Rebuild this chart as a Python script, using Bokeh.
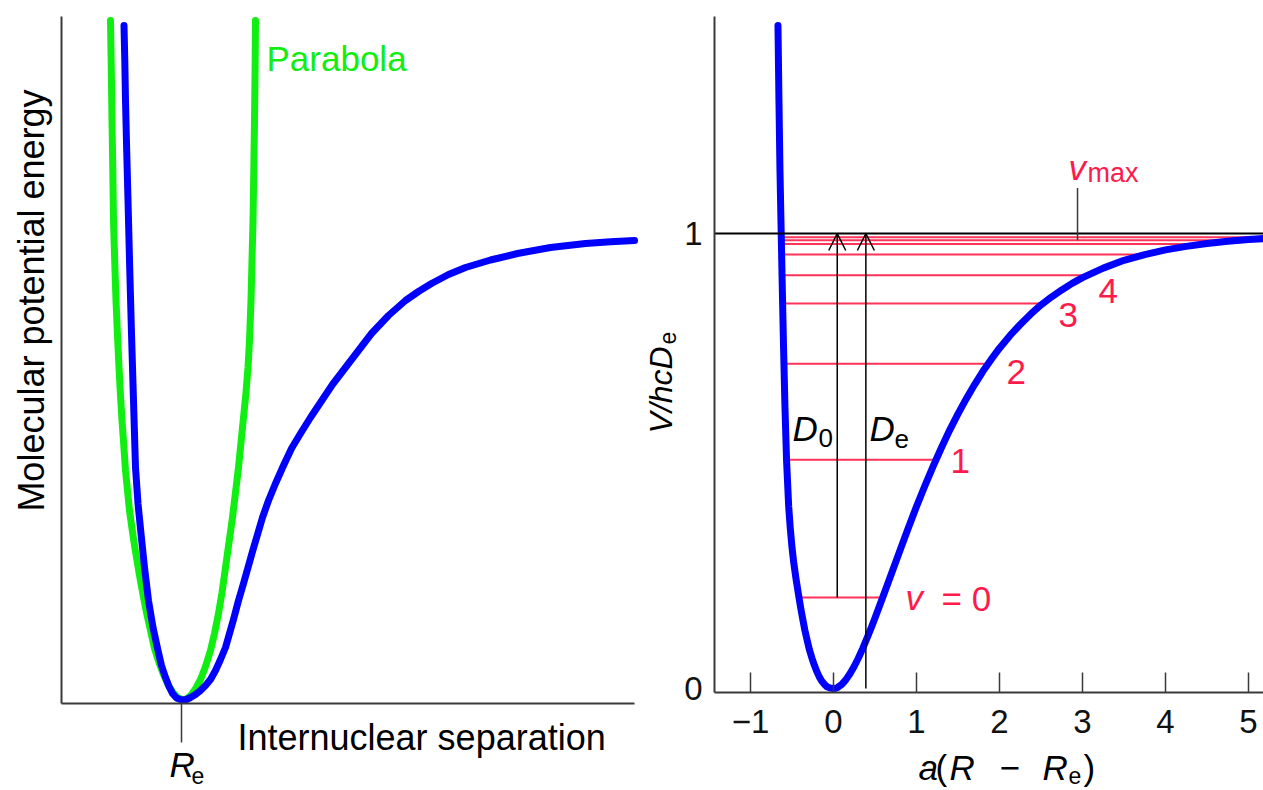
from math import pi
from bokeh.plotting import figure
from bokeh.layouts import row
from bokeh.models import FixedTicker, Label, Arrow, OpenHead
from bokeh.embed import file_html
from bokeh.resources import INLINE

FONT = "Liberation Sans"
BLUE = "#0000ff"
GREEN = "#11ee11"
RED = "#ff1a4b"
LEVEL_RED = "#ff3358"
AXIS = "#3a3a3a"

# ---------------- left panel data (arbitrary units) ----------------
morse_left_x = [0.625, 0.633, 0.64, 0.652, 0.665, 0.682, 0.70, 0.72, 0.74, 0.765,
                0.795, 0.83, 0.87, 0.915, 0.965, 1.00, 1.04, 1.075, 1.11, 1.15,
                1.20, 1.25, 1.29, 1.34, 1.39, 1.44, 1.49, 1.54, 1.59, 1.64,
                1.68, 1.72, 1.77, 1.82, 1.865, 1.91, 1.96, 2.01, 2.07, 2.14,
                2.22, 2.30, 2.39, 2.49, 2.59, 2.71, 2.84, 2.97, 3.10, 3.27,
                3.44, 3.57, 3.70, 3.87, 4.04, 4.29, 4.56, 4.89, 5.24, 5.49, 5.73]
morse_left_y = [6.78, 6.43, 6.03, 5.53, 5.03, 4.36, 3.70, 3.03, 2.36, 2.00,
                1.70, 1.36, 1.03, 0.76, 0.53, 0.38, 0.26, 0.17, 0.10, 0.055,
                0.035, 0.04, 0.06, 0.09, 0.13, 0.18, 0.24, 0.33, 0.44, 0.56,
                0.70, 0.84, 1.03, 1.20, 1.36, 1.52, 1.69, 1.86, 2.03, 2.20,
                2.38, 2.55, 2.70, 2.86, 3.01, 3.19, 3.36, 3.53, 3.70, 3.88,
                4.03, 4.12, 4.20, 4.29, 4.36, 4.435, 4.50, 4.56, 4.60, 4.617, 4.63]
parabola_x = [0.49, 0.498, 0.505, 0.513, 0.52, 0.532, 0.545, 0.56, 0.575, 0.59,
              0.605, 0.623, 0.64, 0.66, 0.68, 0.705, 0.73, 0.755, 0.78, 0.815,
              0.85, 0.89, 0.93, 0.975, 1.02, 1.065, 1.115, 1.16, 1.21,
              1.255, 1.30, 1.345, 1.39, 1.44, 1.49, 1.53, 1.57, 1.605, 1.64,
              1.675, 1.71, 1.74, 1.77, 1.795, 1.82, 1.845, 1.865, 1.88, 1.895,
              1.905, 1.915, 1.923, 1.93, 1.936, 1.94]
parabola_y = [6.83, 6.33, 5.83, 5.33, 4.83, 4.43, 4.03, 3.68, 3.36, 3.08,
              2.83, 2.58, 2.33, 2.13, 1.93, 1.75, 1.58, 1.43, 1.28, 1.09,
              0.91, 0.73, 0.55, 0.41, 0.29, 0.19, 0.11, 0.06, 0.035,
              0.05, 0.09, 0.155, 0.24, 0.37, 0.53, 0.70, 0.90, 1.11, 1.36,
              1.61, 1.86, 2.11, 2.36, 2.61, 2.86, 3.11, 3.36, 3.63, 4.03,
              4.43, 4.83, 5.33, 5.83, 6.33, 6.83]
re_position = [1.2]

# ---------------- right panel data: a(R - Re) vs V/hcDe ----------------
morse_x = [-0.669, -0.657, -0.645, -0.630, -0.617, -0.603, -0.585, -0.566, -0.540,
           -0.521, -0.500, -0.480, -0.455, -0.435, -0.416, -0.395, -0.370, -0.345,
           -0.316, -0.290, -0.260, -0.230, -0.200, -0.170, -0.140, -0.110, -0.080,
           -0.040, 0.000, 0.025, 0.050, 0.100, 0.150, 0.200, 0.250, 0.300, 0.350,
           0.400, 0.450, 0.500, 0.600, 0.700, 0.800, 0.900, 1.000, 1.100, 1.200,
           1.300, 1.400, 1.500, 1.600, 1.700, 1.800, 1.900, 2.000, 2.125, 2.250,
           2.375, 2.500, 2.625, 2.750, 2.875, 3.000, 3.250, 3.500, 3.750, 4.000,
           4.250, 4.500, 4.750, 5.000, 5.200]
morse_v = [1.457, 1.29, 1.14, 1.00, 0.88, 0.76, 0.62, 0.503, 0.40,
           0.353, 0.31, 0.278, 0.245, 0.222, 0.20, 0.177, 0.152, 0.128,
           0.105, 0.085, 0.067, 0.051, 0.037, 0.025, 0.016, 0.0095, 0.004,
           0.0012, 0.0, 0.0006, 0.0024, 0.009, 0.0194, 0.033, 0.0489, 0.067, 0.0872,
           0.109, 0.1313, 0.155, 0.204, 0.2534, 0.303, 0.3521, 0.400, 0.445, 0.488,
           0.5292, 0.568, 0.6035, 0.637, 0.668, 0.697, 0.7232, 0.748, 0.7755, 0.800,
           0.8226, 0.843, 0.8604, 0.876, 0.8904, 0.903, 0.9239, 0.941, 0.9536, 0.964,
           0.9717, 0.978, 0.9828, 0.987, 0.989]
level_v = [0, 1, 2, 3, 4, 5, 6, 7, 8]
level_e = [0.200, 0.503, 0.714, 0.846, 0.908, 0.954, 0.977, 0.985, 0.992]
level_left = [-0.416, -0.566, -0.597, -0.613, -0.620, -0.625, -0.628, -0.629, -0.630]
level_right = [0.59, 1.23, 1.86, 2.53, 3.06, 3.76, 4.40, 4.85, 5.15]
x_ticks = [-1, 0, 1, 2, 3, 4, 5]
y_ticks = [0, 1]
d0_x, de_x = 0.045, 0.39
vmax_x, vmax_y0, vmax_y1 = 2.94, 0.985, 1.10


# pixel -> data helpers (used only to place texts and the axes)
def LX(px):
    return (px - 61) / 100


def LY(py):
    return (703 - py) / 100


def RX(px):
    return (px - 833) / 83


def RY(py):
    return (688 - py) / 455


def lab(p, x, y, text, size=35, color="black", style="normal", align="left",
        baseline="middle", angle=0.0):
    p.add_layout(Label(x=x, y=y, text=text, text_font=FONT,
                       text_font_size=f"{size}px", text_color=color,
                       text_font_style=style, text_align=align,
                       text_baseline=baseline, angle=angle))


def base_style(p):
    p.xgrid.visible = False
    p.ygrid.visible = False
    p.outline_line_color = None
    p.background_fill_color = "white"
    p.border_fill_color = "white"
    for ax in (p.xaxis, p.yaxis):
        ax.axis_line_color = AXIS
        ax.axis_line_width = 2
        ax.major_tick_line_color = AXIS
        ax.major_tick_line_width = 1.5
        ax.minor_tick_line_color = None
        ax.axis_label = None
        ax.major_label_text_font = FONT
        ax.major_label_text_color = "#111111"


# ---------------- left figure ----------------
p1 = figure(width=640, height=790, x_range=(LX(0), LX(640)), y_range=(LY(790), LY(0)),
            output_backend="svg", toolbar_location=None,
            min_border_left=0, min_border_right=0, min_border_top=0,
            min_border_bottom=0)
base_style(p1)
p1.xaxis.fixed_location = 0
p1.xaxis.bounds = (0, LX(634))
p1.xaxis.ticker = FixedTicker(ticks=re_position)
p1.xaxis.major_tick_in = 0
p1.xaxis.major_tick_out = 39
p1.xaxis.major_label_overrides = {re_position[0]: ""}
p1.yaxis.fixed_location = 0
p1.yaxis.bounds = (0, LY(16))
p1.yaxis.ticker = FixedTicker(ticks=[])
p1.yaxis.major_tick_out = 0
p1.yaxis.major_tick_in = 0

p1.line(parabola_x, parabola_y, line_color=GREEN, line_width=7,
        line_cap="round", line_join="round")
p1.line(morse_left_x, morse_left_y, line_color=BLUE, line_width=7,
        line_cap="round", line_join="round")

lab(p1, LX(31), LY(300), "Molecular potential energy", size=36, align="center",
    angle=pi / 2)
lab(p1, LX(266), LY(58), "Parabola", color=GREEN)
lab(p1, LX(237), LY(737), "Internuclear separation", size=36)
lab(p1, LX(169), LY(764), "R", style="italic")
lab(p1, LX(191), LY(775), "e", size=23)

# ---------------- right figure ----------------
p2 = figure(width=623, height=790, x_range=(RX(640), RX(1263)),
            y_range=(RY(790), RY(0)),
            output_backend="svg", toolbar_location=None,
            min_border_left=0, min_border_right=0, min_border_top=0,
            min_border_bottom=0)
base_style(p2)
x_axis_start, x_axis_end = RX(714), RX(1263)
y_axis_start, y_axis_end = RY(692), RY(16)
p2.xaxis.fixed_location = y_axis_start
p2.xaxis.bounds = (x_axis_start, x_axis_end)
p2.xaxis.ticker = FixedTicker(ticks=x_ticks)
p2.xaxis.major_tick_in = 20
p2.xaxis.major_tick_out = 0
p2.xaxis.major_label_standoff = 17
p2.xaxis.major_label_text_font_size = "33px"
p2.xaxis.major_label_overrides = {-1: "\u22121"}
p2.yaxis.fixed_location = x_axis_start
p2.yaxis.bounds = (y_axis_start, y_axis_end)
p2.yaxis.ticker = FixedTicker(ticks=y_ticks)
p2.yaxis.major_tick_in = 0
p2.yaxis.major_tick_out = 0
p2.yaxis.major_label_standoff = 12
p2.yaxis.major_label_text_font_size = "33px"

p2.segment(x0=level_left, y0=level_e, x1=level_right, y1=level_e,
           line_color=LEVEL_RED, line_width=2)
p2.line(morse_x, morse_v, line_color=BLUE, line_width=7,
        line_cap="round", line_join="round")
# dissociation limit V/hcDe = 1
p2.segment(x0=[x_axis_start], y0=[y_ticks[1]], x1=[x_axis_end], y1=[y_ticks[1]],
           line_color="black", line_width=2)
p2.segment(x0=[vmax_x], y0=[vmax_y0], x1=[vmax_x], y1=[vmax_y1],
           line_color=AXIS, line_width=1.5)
p2.add_layout(Arrow(end=OpenHead(size=17, line_width=1.5, line_color="black"),
                    x_start=d0_x, y_start=level_e[0], x_end=d0_x, y_end=1.0,
                    line_width=1.5, line_color="black"))
p2.add_layout(Arrow(end=OpenHead(size=17, line_width=1.5, line_color="black"),
                    x_start=de_x, y_start=0.0, x_end=de_x, y_end=1.0,
                    line_width=1.5, line_color="black"))

# axis titles (mixed italic / subscript)
lab(p2, RX(660), RY(433), "V/hcD", size=32, style="italic", angle=pi / 2)
lab(p2, RX(667), RY(344), "e", size=23, angle=pi / 2)
lab(p2, RX(918), RY(767), "a", style="italic")
lab(p2, RX(935), RY(767), "(")
lab(p2, RX(949), RY(767), "R", style="italic")
lab(p2, RX(999), RY(767), "\u2212")
lab(p2, RX(1042), RY(767), "R", style="italic")
lab(p2, RX(1068), RY(775), "e", size=23)
lab(p2, RX(1083), RY(767), ")")

# vmax
lab(p2, RX(1068), RY(167), "v", color=RED, style="italic")
lab(p2, RX(1087), RY(172), "max", size=27, color=RED)

# D0 and De
lab(p2, RX(792), RY(428), "D", style="italic")
lab(p2, RX(818), RY(437), "0", size=26)
lab(p2, RX(869), RY(428), "D", style="italic")
lab(p2, RX(894), RY(438), "e", size=26)

# vibrational quantum numbers
lab(p2, RX(905), RY(597), "v", color=RED, style="italic")
lab(p2, RX(941), RY(598), "= 0", color=RED)
lab(p2, RX(950), RY(460), "1", color=RED)
lab(p2, RX(1006), RY(371), "2", color=RED)
lab(p2, RX(1058), RY(314), "3", color=RED)
lab(p2, RX(1098), RY(290), "4", color=RED)

layout = row(p1, p2)
open("out.html", "w").write(file_html(layout, INLINE))
